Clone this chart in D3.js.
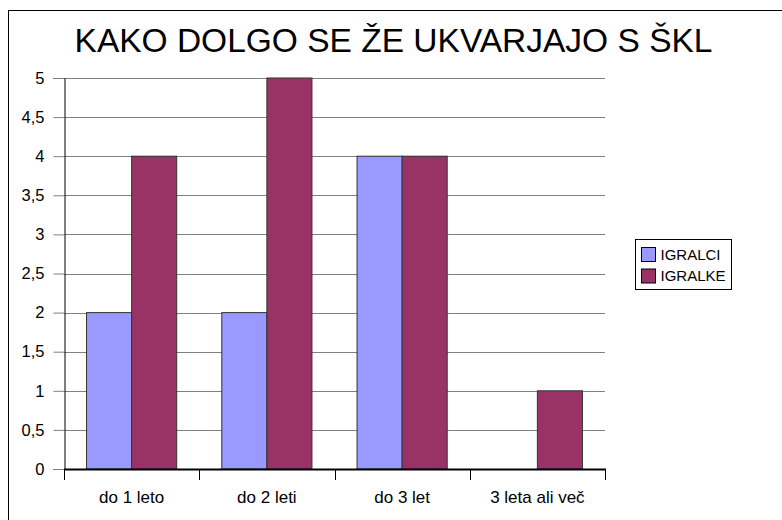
<!DOCTYPE html>
<html><head><meta charset="utf-8">
<script src="https://cdn.jsdelivr.net/npm/d3@7"></script>
<style>body{margin:0;background:#fff}svg{display:block;font-family:"Liberation Sans",Arial,sans-serif}</style>
</head><body><svg id="c" width="782" height="520"></svg>
<script>
const title = "KAKO DOLGO SE ŽE UKVARJAJO S ŠKL";
const categories = ["do 1 leto", "do 2 leti", "do 3 let", "3 leta ali več"];
const seriesNames = ["IGRALCI", "IGRALKE"];
const igralci = [2, 2, 4, 0];
const igralke = [4, 5, 4, 1];
const yTicks = [0, 0.5, 1, 1.5, 2, 2.5, 3, 3.5, 4, 4.5, 5];
const colors = ["#9999FF", "#993366"];

const svg = d3.select("#c");
const L = 64, R = 605, T = 78, B = 469;
const FF = "Liberation Sans, Arial, sans-serif";
svg.append("rect").attr("x", 8.5).attr("y", 10.5).attr("width", 790).attr("height", 540)
  .attr("fill", "#fff").attr("stroke", "#000").attr("stroke-width", 1);

const x0 = d3.scaleBand().domain(categories).range([L, R]).paddingInner(0).paddingOuter(0);
const x1 = d3.scaleBand().domain(seriesNames).range([0, x0.bandwidth()]).paddingInner(0).paddingOuter(0.5);
const y = d3.scaleLinear().domain([0, 5]).range([B, T]);

// gridlines
svg.append("g").selectAll("line").data(yTicks.filter(d => d > 0)).join("line")
  .attr("x1", L).attr("x2", R).attr("y1", d => Math.round(y(d)) + 0.5).attr("y2", d => Math.round(y(d)) + 0.5)
  .attr("stroke", "#808080").attr("stroke-width", 1);

// y axis
const fmt = d => String(d).replace(".", ",");
const ya = svg.append("g").attr("transform", `translate(${L + 0.5},0)`)
  .call(d3.axisLeft(y).tickValues(yTicks).tickSize(11).tickFormat(fmt).tickPadding(9));
ya.select(".domain").attr("stroke", "#000");
ya.selectAll(".tick line").attr("stroke", "#808080");
ya.selectAll("text").attr("font-size", 16.5).attr("fill", "#000").attr("font-family", FF);

// bars
const data = categories.map((c, i) => ({c, vals: [igralci[i], igralke[i]]}));
const g = svg.append("g");
data.forEach(d => {
  d.vals.forEach((v, j) => {
    if (v <= 0) return;
    g.append("rect")
      .attr("x", x0(d.c) + x1(seriesNames[j]))
      .attr("y", y(v))
      .attr("width", x1.bandwidth())
      .attr("height", y(0) - y(v))
      .attr("fill", colors[j]).attr("stroke", "#333").attr("stroke-width", 1);
  });
});

// x axis
const xa = svg.append("g").attr("transform", `translate(0,${B})`)
  .call(d3.axisBottom(x0).tickSize(0).tickPadding(22));
xa.select(".domain").remove();
xa.selectAll("text").attr("font-size", 17).attr("fill", "#000").attr("font-family", FF);
svg.append("line").attr("x1", L).attr("x2", R + 1).attr("y1", B + 0.5).attr("y2", B + 0.5).attr("stroke", "#000").attr("stroke-width", 2);
const bounds = categories.map(c => x0(c)).concat([R]);
svg.append("g").selectAll("line").data(bounds).join("line")
  .attr("x1", d => Math.round(d) + 0.5).attr("x2", d => Math.round(d) + 0.5)
  .attr("y1", B).attr("y2", B + 11).attr("stroke", "#000");

// title
svg.append("text").attr("x", 393.5).attr("y", 52).attr("text-anchor", "middle")
  .attr("font-size", 33.5).attr("fill", "#000").text(title);

// legend
const lg = svg.append("g");
lg.append("rect").attr("x", 635.5).attr("y", 239.5).attr("width", 96).attr("height", 50)
  .attr("fill", "#fff").attr("stroke", "#000");
seriesNames.forEach((s, i) => {
  lg.append("rect").attr("x", 641.5).attr("y", 247.5 + i * 21.5).attr("width", 14).attr("height", 14)
    .attr("fill", colors[i]).attr("stroke", "#000");
  lg.append("text").attr("x", 660.5).attr("y", 259.5 + i * 21.5).attr("font-size", 15).attr("fill", "#000")
    .attr("font-family", FF).text(s);
});
</script></body></html>
